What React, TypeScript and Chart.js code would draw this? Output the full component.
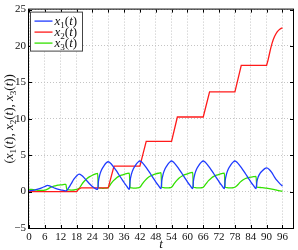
import React, { useEffect, useRef } from "react";
import { Chart, registerables } from "chart.js";

Chart.register(...registerables);

// ---------- data ----------
const xTicksMax = 100;
const yMin = -5;
const yMax = 25;

const tX1 = [
  0, 2, 4, 6, 7, 8, 10, 12, 14,
  15, 16, 17, 18, 19, 20, 21, 22, 23, 24, 25, 26,
  26.3, 26.8, 27.5, 28.5, 29.3, 30, 31, 32, 33, 34, 35, 36, 37, 38,
  38.3, 38.8, 39.5, 40.5, 41.3, 42, 43, 44, 45, 46, 47, 48, 49, 50,
  50.3, 50.8, 51.5, 52.5, 53.3, 54, 55, 56, 57, 58, 59, 60, 61, 62,
  62.3, 62.8, 63.5, 64.5, 65.3, 66, 67, 68, 69, 70, 71, 72, 73, 74,
  74.3, 74.8, 75.5, 76.5, 77.3, 78, 79, 80, 81, 82, 83, 84, 85, 86,
  86.3, 86.8, 87.5, 88.5, 89.3, 90, 91, 92, 93, 94, 95, 96,
];
const vX1 = [
  0.1, 0.2, 0.4, 0.7, 0.85, 0.75, 0.45, 0.25, 0.1,
  0.5, 1.1, 1.7, 2.15, 2.4, 2.2, 1.85, 1.45, 1.05, 0.7, 0.45, 0.3,
  1.4, 2.3, 3.0, 3.6, 3.95, 4.1, 3.85, 3.4, 2.9, 2.35, 1.8, 1.25, 0.75, 0.3,
  1.5, 2.4, 3.1, 3.7, 4.05, 4.2, 3.95, 3.5, 3.0, 2.45, 1.9, 1.35, 0.85, 0.4,
  1.5, 2.4, 3.1, 3.7, 4.05, 4.2, 3.95, 3.5, 3.0, 2.45, 1.9, 1.35, 0.85, 0.4,
  1.5, 2.4, 3.1, 3.7, 4.05, 4.2, 3.95, 3.5, 3.0, 2.45, 1.9, 1.35, 0.85, 0.4,
  1.5, 2.4, 3.1, 3.7, 4.05, 4.2, 3.95, 3.5, 3.0, 2.45, 1.9, 1.35, 0.85, 0.4,
  1.3, 2.0, 2.5, 2.9, 3.15, 3.25, 3.05, 2.6, 2.0, 1.5, 1.1, 0.75,
];

const tX2 = [
  0, 18, 18.6, 19.3, 19.8, 30, 32.2, 42, 44.4, 54, 56.2, 66, 68.4, 78, 80.4, 90,
  90.5, 91, 91.5, 92, 92.5, 93, 93.5, 94, 94.5, 95, 95.5, 96,
];
const vX2 = [
  0, 0, 0.25, 0.45, 0.5, 0.5, 3.5, 3.5, 6.9, 6.9, 10.25, 10.25, 13.7, 13.7, 17.35, 17.35,
  18.0, 18.8, 19.6, 20.3, 20.85, 21.3, 21.65, 21.95, 22.15, 22.3, 22.42, 22.5,
];

const tX3 = [
  0, 1, 2, 3, 4, 5, 6, 7, 8, 9, 10, 11, 12, 13, 14,
  14.3, 15, 16, 17, 18, 19, 20, 21, 22, 23, 24, 25, 26,
  26.3, 27, 28, 29, 30, 31, 32, 33, 34, 35, 36, 37, 38,
  38.3, 39, 40, 41, 42, 43, 44, 45, 46, 47, 48, 49, 50,
  50.3, 51, 52, 53, 54, 55, 56, 57, 58, 59, 60, 61, 62,
  62.3, 63, 64, 65, 66, 67, 68, 69, 70, 71, 72, 73, 74,
  74.3, 75, 76, 77, 78, 79, 80, 81, 82, 83, 84, 85, 86,
  86.3, 87, 88, 89, 90, 91, 92, 93, 94, 95, 96,
];
const vX3 = [
  0.3, 0.3, 0.25, 0.2, 0.15, 0.15, 0.2, 0.35, 0.55, 0.7, 0.8, 0.88, 0.93, 0.97, 1.0,
  0.25, 0.25, 0.2, 0.22, 0.3, 0.45, 1.0, 1.45, 1.8, 2.05, 2.25, 2.4, 2.5,
  0.5, 0.48, 0.45, 0.48, 0.55, 1.05, 1.5, 1.85, 2.1, 2.25, 2.38, 2.48, 2.55,
  0.55, 0.5, 0.47, 0.5, 0.6, 1.1, 1.55, 1.9, 2.15, 2.3, 2.42, 2.52, 2.6,
  0.6, 0.55, 0.5, 0.52, 0.6, 1.1, 1.55, 1.9, 2.15, 2.32, 2.45, 2.56, 2.65,
  0.6, 0.55, 0.5, 0.52, 0.6, 1.05, 1.5, 1.85, 2.1, 2.25, 2.38, 2.48, 2.55,
  0.6, 0.55, 0.5, 0.52, 0.6, 0.9, 1.3, 1.6, 1.8, 1.92, 2.0, 2.05, 2.1,
  0.6, 0.58, 0.55, 0.52, 0.48, 0.42, 0.35, 0.27, 0.18, 0.1, 0.05,
];

const seriesNames = ["1", "2", "3"];
const seriesColors = ["#1f3bff", "#ff1a1a", "#33e000"];
const SERIF = '"Liberation Serif", "DejaVu Serif", serif';

type Seg = { t: string; it?: boolean; sub?: boolean };

function xLabel(k: string): Seg[] {
  return [{ t: "x", it: true }, { t: k, sub: true }, { t: "(" }, { t: "t", it: true }, { t: ")" }];
}

function richWidth(ctx: CanvasRenderingContext2D, segs: Seg[], size: number) {
  let w = 0;
  for (const s of segs) {
    const fs = s.sub ? size * 0.7 : size;
    ctx.font = `${s.it ? "italic " : ""}${fs}px ${SERIF}`;
    w += ctx.measureText(s.t).width;
  }
  return w;
}

function drawRich(ctx: CanvasRenderingContext2D, segs: Seg[], x: number, y: number, size: number) {
  let cx = x;
  ctx.textBaseline = "alphabetic";
  ctx.textAlign = "left";
  for (const s of segs) {
    const fs = s.sub ? size * 0.7 : size;
    ctx.font = `${s.it ? "italic " : ""}${fs}px ${SERIF}`;
    ctx.fillText(s.t, cx, s.sub ? y + size * 0.22 : y);
    cx += ctx.measureText(s.t).width;
  }
}

const decorPlugin = {
  id: "decor",
  afterDraw(chart: any) {
    const { ctx, chartArea } = chart;
    const { left, right, top, bottom } = chartArea;
    const xs = chart.scales.x;
    const ys = chart.scales.y;
    ctx.save();
    // box
    ctx.strokeStyle = "#000";
    ctx.lineWidth = 1;
    ctx.strokeRect(left - 0.5, top - 0.5, right - left + 1, bottom - top + 1);
    // inward ticks
    ctx.beginPath();
    for (const tk of xs.ticks) {
      const px = Math.round(xs.getPixelForValue(tk.value)) + 0.5;
      ctx.moveTo(px, bottom);
      ctx.lineTo(px, bottom - 3);
      ctx.moveTo(px, top);
      ctx.lineTo(px, top + 3);
    }
    for (const tk of ys.ticks) {
      const py = Math.round(ys.getPixelForValue(tk.value)) + 0.5;
      ctx.moveTo(left, py);
      ctx.lineTo(left + 3, py);
      ctx.moveTo(right, py);
      ctx.lineTo(right - 3, py);
    }
    ctx.stroke();

    // legend
    const lx = left + 1.5;
    const ly = top + 2.5;
    const lw = 52;
    const lh = 39;
    ctx.fillStyle = "#fff";
    ctx.fillRect(lx, ly, lw, lh);
    ctx.strokeStyle = "#444";
    ctx.strokeRect(lx, ly, lw, lh);
    seriesNames.forEach((k, i) => {
      const yy = ly + 9 + i * 11;
      ctx.strokeStyle = seriesColors[i];
      ctx.lineWidth = 1.3;
      ctx.beginPath();
      ctx.moveTo(lx + 4, yy);
      ctx.lineTo(lx + 22, yy);
      ctx.stroke();
      ctx.fillStyle = "#111";
      drawRich(ctx, xLabel(k), lx + 24, yy + 4, 13);
    });

    // y title
    const ySegs: Seg[] = [
      { t: "(" },
      ...xLabel("1"),
      { t: ", " },
      ...xLabel("2"),
      { t: ", " },
      ...xLabel("3"),
      { t: ")" },
    ];
    ctx.fillStyle = "#111";
    ctx.translate(13, (top + bottom) / 2);
    ctx.rotate(-Math.PI / 2);
    const w = richWidth(ctx, ySegs, 13);
    drawRich(ctx, ySegs, -w / 2, 0, 13);
    ctx.restore();

    // x title
    ctx.save();
    ctx.fillStyle = "#111";
    ctx.font = `italic 13px ${SERIF}`;
    ctx.textAlign = "center";
    ctx.textBaseline = "alphabetic";
    ctx.fillText("t", (left + right) / 2, 248);
    ctx.restore();
  },
};

export default function App() {
  const ref = useRef<HTMLCanvasElement | null>(null);

  useEffect(() => {
    document.body.style.margin = "0";
    if (!ref.current) return;
    const mk = (ts: number[], vs: number[]) => ts.map((t, i) => ({ x: t, y: vs[i] }));
    const base = { borderWidth: 1.3, pointRadius: 0, fill: false };
    const chart = new Chart(ref.current, {
      type: "line",
      data: {
        datasets: [
          { ...base, label: "x1", data: mk(tX1, vX1), borderColor: seriesColors[0], cubicInterpolationMode: "monotone" as const },
          { ...base, label: "x2", data: mk(tX2, vX2), borderColor: seriesColors[1], tension: 0 },
          { ...base, label: "x3", data: mk(tX3, vX3), borderColor: seriesColors[2], cubicInterpolationMode: "monotone" as const },
        ],
      },
      options: {
        animation: false,
        responsive: true,
        maintainAspectRatio: false,
        layout: { padding: { top: 7, right: 5, left: 0, bottom: 0 } },
        plugins: { legend: { display: false }, tooltip: { enabled: false } },
        scales: {
          x: {
            type: "linear",
            min: 0,
            max: xTicksMax,
            afterFit: (s: any) => {
              s.height = 22;
            },
            grid: { color: "#c4c4c4", lineWidth: 1, drawTicks: false },
            border: { display: false, dash: [1, 2] },
            ticks: {
              stepSize: 6,
              includeBounds: false,
              autoSkip: false,
              maxRotation: 0,
              padding: 3,
              color: "#111",
              font: { family: SERIF, size: 11 },
            },
          },
          y: {
            type: "linear",
            min: yMin,
            max: yMax,
            afterFit: (s: any) => {
              s.width = 29;
            },
            grid: { color: "#c4c4c4", lineWidth: 1, drawTicks: false },
            border: { display: false, dash: [1, 2] },
            ticks: {
              stepSize: 5,
              padding: 3,
              color: "#111",
              font: { family: SERIF, size: 11 },
              callback: (v: any) => String(v).replace("-", "\u2212"),
            },
          },
        },
      },
      plugins: [decorPlugin],
    });
    return () => chart.destroy();
  }, []);

  return (
    <div style={{ width: 298, height: 250, position: "relative" }}>
      <canvas ref={ref} />
    </div>
  );
}
